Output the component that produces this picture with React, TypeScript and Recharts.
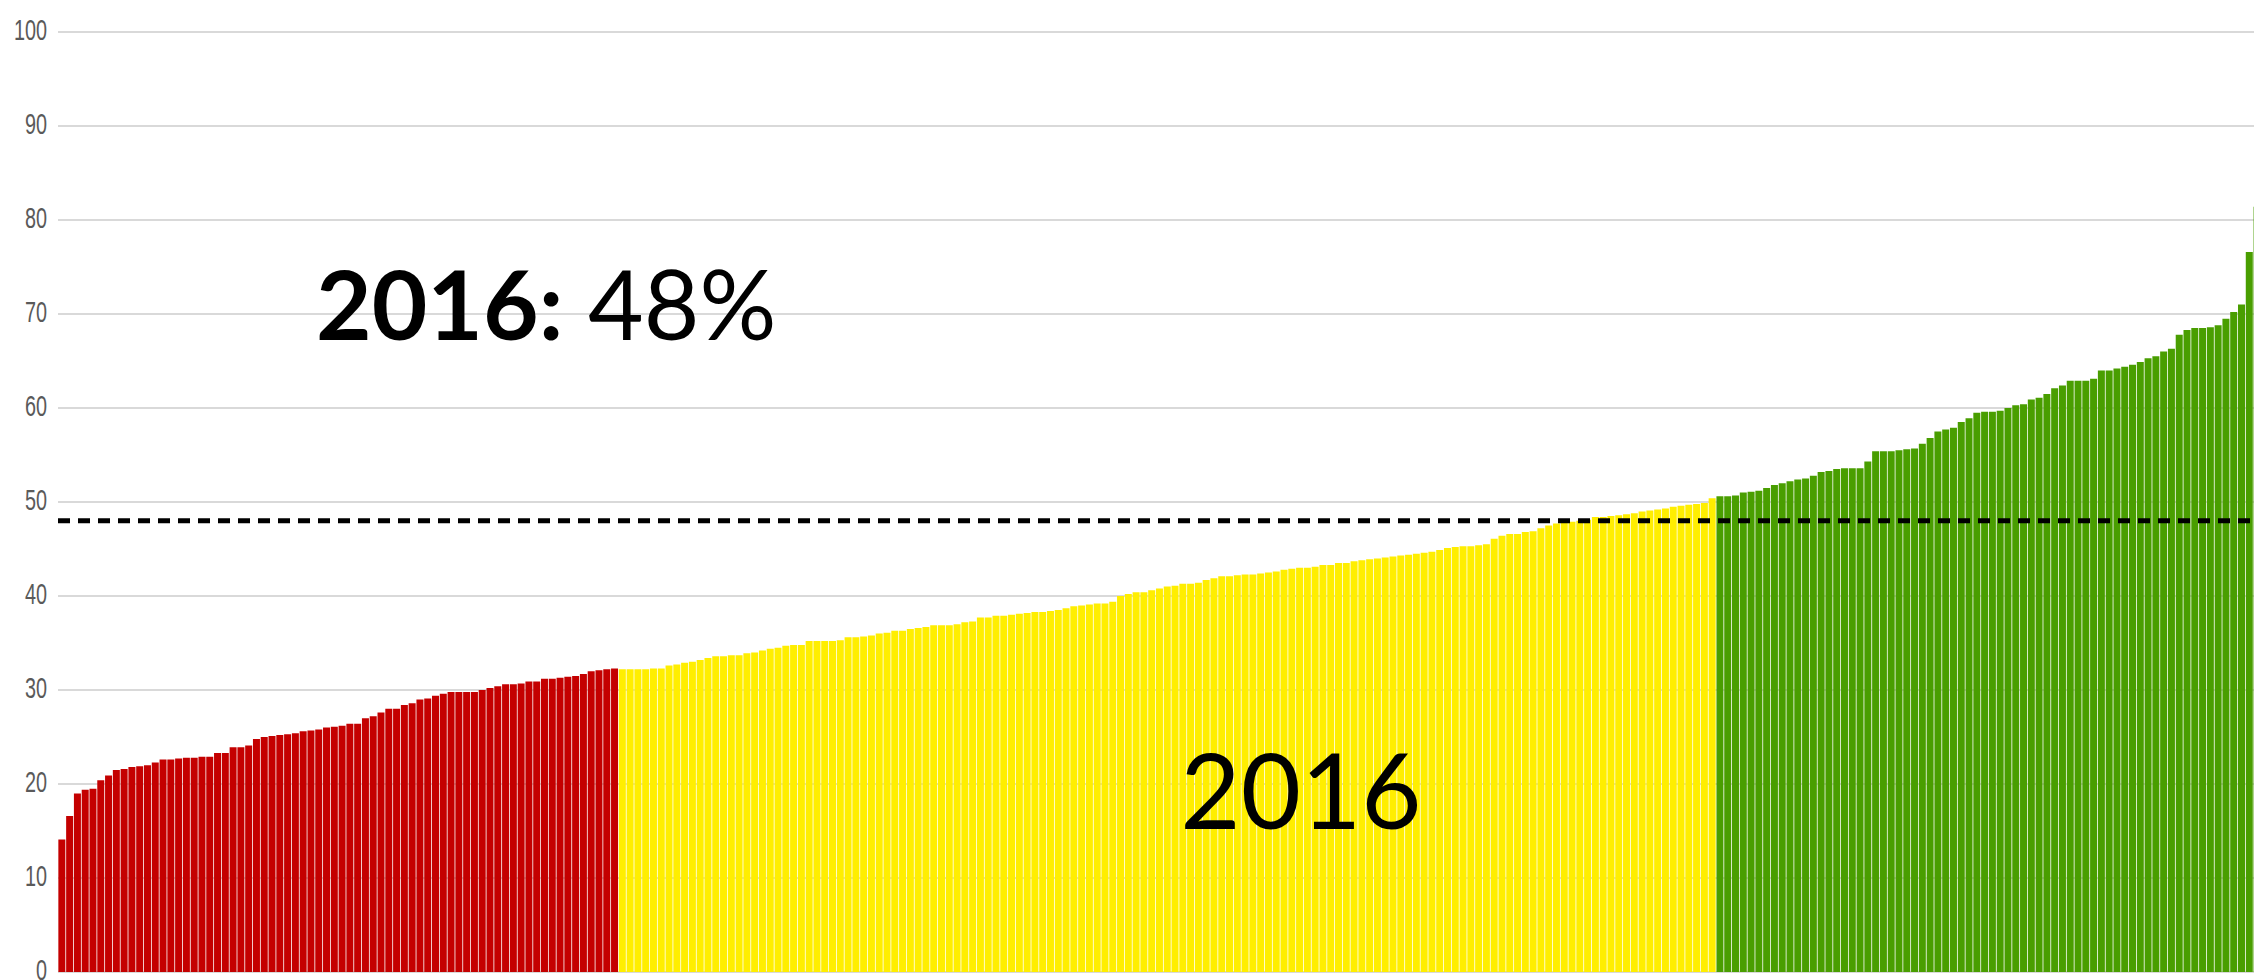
import React from "react";
import { BarChart, Bar, XAxis, YAxis, CartesianGrid, ReferenceLine, Cell } from "recharts";

const redValues = [
  14.1, 16.6, 19.0, 19.4, 19.5, 20.4, 20.9, 21.5, 21.6, 21.8, 21.9, 22.0, 22.3, 22.6, 22.6, 22.7,
  22.8, 22.8, 22.9, 22.9, 23.3, 23.3, 23.9, 23.9, 24.1, 24.8, 25.0, 25.1, 25.2, 25.3, 25.4, 25.6,
  25.7, 25.8, 26.0, 26.1, 26.2, 26.4, 26.4, 27.0, 27.2, 27.6, 28.0, 28.0, 28.4, 28.6, 29.0, 29.1,
  29.4, 29.6, 29.8, 29.8, 29.8, 29.8, 30.0, 30.2, 30.4, 30.6, 30.6, 30.7, 30.9, 30.9, 31.2, 31.2,
  31.3, 31.4, 31.5, 31.7, 32.0, 32.1, 32.2, 32.3,
];

const yellowValues = [
  32.2, 32.2, 32.2, 32.2, 32.3, 32.3, 32.6, 32.7, 32.9, 33.0, 33.2, 33.4, 33.6, 33.6, 33.7, 33.7,
  33.9, 34.0, 34.2, 34.4, 34.5, 34.7, 34.8, 34.8, 35.2, 35.2, 35.2, 35.2, 35.3, 35.6, 35.6, 35.7,
  35.8, 36.0, 36.1, 36.3, 36.3, 36.5, 36.6, 36.7, 36.9, 36.9, 36.9, 37.0, 37.2, 37.3, 37.7, 37.7,
  37.9, 37.9, 38.0, 38.1, 38.2, 38.3, 38.3, 38.4, 38.5, 38.7, 38.9, 39.0, 39.1, 39.2, 39.2, 39.4,
  40.0, 40.2, 40.4, 40.4, 40.6, 40.8, 41.0, 41.1, 41.3, 41.3, 41.4, 41.7, 41.9, 42.1, 42.1, 42.2,
  42.3, 42.3, 42.4, 42.5, 42.6, 42.8, 42.9, 43.0, 43.0, 43.1, 43.3, 43.3, 43.5, 43.5, 43.7, 43.8,
  43.9, 44.0, 44.1, 44.2, 44.3, 44.4, 44.5, 44.6, 44.7, 44.9, 45.1, 45.2, 45.3, 45.3, 45.4, 45.5,
  46.1, 46.4, 46.6, 46.6, 46.8, 46.9, 47.2, 47.5, 47.7, 47.8, 47.9, 48.0, 48.1, 48.4, 48.4, 48.5,
  48.6, 48.7, 48.8, 49.0, 49.1, 49.2, 49.3, 49.5, 49.6, 49.7, 49.8, 49.9, 50.4,
];

const greenValues = [
  50.6, 50.6, 50.7, 51.0, 51.1, 51.2, 51.5, 51.8, 52.0, 52.2, 52.4, 52.5, 52.8, 53.2, 53.3, 53.5,
  53.6, 53.6, 53.6, 54.3, 55.4, 55.4, 55.4, 55.5, 55.6, 55.7, 56.2, 56.8, 57.5, 57.7, 57.9, 58.5,
  58.9, 59.5, 59.6, 59.6, 59.7, 60.0, 60.3, 60.4, 60.9, 61.1, 61.5, 62.1, 62.4, 62.9, 62.9, 62.9,
  63.1, 64.0, 64.0, 64.2, 64.4, 64.6, 64.9, 65.3, 65.5, 66.0, 66.3, 67.8, 68.3, 68.5, 68.5, 68.6,
  68.8, 69.5, 70.2, 71.0, 76.6, 81.4,
];

const yTicks = [0, 10, 20, 30, 40, 50, 60, 70, 80, 90, 100];
const averageValue = 48;
const yearLabel = "2016";
const averageLabel = "48%";

const RED = "#c40000";
const YELLOW = "#ffee00";
const GREEN = "#499e00";

const data = [
  ...redValues.map((v) => ({ value: v, color: RED })),
  ...yellowValues.map((v) => ({ value: v, color: YELLOW })),
  ...greenValues.map((v) => ({ value: v, color: GREEN })),
].map((d, i) => ({ ...d, idx: i + 1 }));

const YTick = (props: any) => {
  const { x, y, payload } = props;
  return (
    <text
      x={0}
      y={0}
      dy={-3}
      transform={`translate(${x},${y}) scale(0.66,1)`}
      textAnchor="end"
      dominantBaseline="central"
      fontFamily="'Liberation Sans', Arial, sans-serif"
      fontSize={30}
      fill="#5a5a5a"
    >
      {payload.value}
    </text>
  );
};

export default function App() {
  return (
    <div
      style={{
        position: "fixed",
        left: 0,
        top: 0,
        width: 2254,
        height: 980,
        overflow: "hidden",
        background: "#fff",
      }}
    >
      <BarChart
        width={2261}
        height={980}
        data={data}
        margin={{ top: 32, right: 0, bottom: 8, left: 0 }}
        barCategoryGap={0.35}
      >
        <CartesianGrid horizontal={true} vertical={false} stroke="#d9d9d9" strokeWidth={2} />
        <XAxis dataKey="idx" hide />
        <YAxis
          width={58}
          domain={[0, 100]}
          ticks={yTicks}
          axisLine={false}
          tickLine={false}
          tickSize={6}
          tickMargin={5}
          tick={<YTick />}
          interval={0}
        />
        <Bar dataKey="value" isAnimationActive={false}>
          {data.map((d) => (
            <Cell key={d.idx} fill={d.color} />
          ))}
        </Bar>
        <ReferenceLine y={averageValue} stroke="#000" strokeWidth={5} strokeDasharray="12 8" />
      </BarChart>
      <svg
        width={2254}
        height={980}
        style={{ position: "absolute", left: 0, top: 0, pointerEvents: "none" }}
      >
        <text x={316} y={340} fontFamily="Lato, 'Open Sans', sans-serif" fontSize={96} fill="#000">
          <tspan fontWeight="bold">{yearLabel + ":"}</tspan>
          <tspan fontWeight="normal">{" " + averageLabel}</tspan>
        </text>
        <text
          x={1301}
          y={829}
          textAnchor="middle"
          fontFamily="Lato, 'Open Sans', sans-serif"
          fontSize={104}
          fill="#000"
        >
          {yearLabel}
        </text>
      </svg>
    </div>
  );
}
